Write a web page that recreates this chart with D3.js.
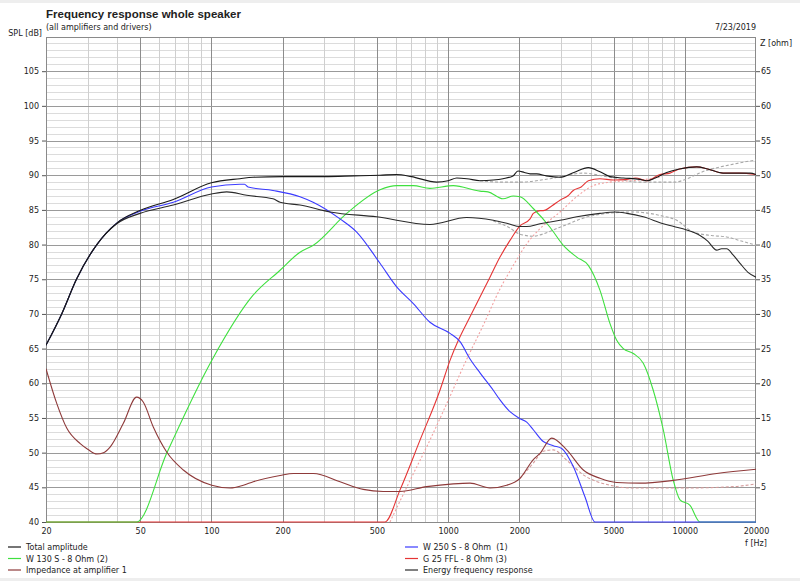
<!DOCTYPE html>
<html><head><meta charset="utf-8">
<script src="https://cdn.jsdelivr.net/npm/d3@7/dist/d3.min.js"></script>
<style>
html,body{margin:0;padding:0;background:#fff;}
svg{display:block;}
text{font-family:"DejaVu Sans",Verdana,sans-serif;fill:#222;}
</style></head><body>
<svg id="chart" width="800" height="581"></svg>
<script>
// ---------- data (frequency Hz, value) ----------
const freqTicks = [20,50,100,200,500,1000,2000,5000,10000,20000];
const splTicks = [40,45,50,55,60,65,70,75,80,85,90,95,100,105];
const zTicks = [5,10,15,20,25,30,35,40,45,50,55,60,65];

// SPL [dB]
const totalAmplitude = [[20,65.5],[23.3,70],[26.9,75],[32.8,80],[39.8,83.1],[49.9,84.9],[69,86.5],[100,88.9],[132,89.5],[150,89.7],[200,89.8],[300,89.8],[400,89.9],[515,90.0],[606,90.1],[700,89.8],[895,89.0],[1000,89.2],[1088,89.6],[1200,89.5],[1364,89.2],[1550,89.3],[1706,89.5],[1880,89.9],[1974,90.6],[2100,90.4],[2220,90.2],[2368,90.2],[2600,89.9],[2971,89.7],[3400,90.4],[3913,91.1],[4384,90.5],[4832,89.8],[5500,89.6],[6469,89.4],[6904,89.2],[7500,89.6],[8389,90.4],[9500,90.9],[11234,91.2],[12500,90.9],[14510,90.3],[17000,90.3],[18880,90.3],[20000,90.1]];
const energyResponse = [[20,65.5],[23.3,70],[26.9,75],[32.8,80],[39.8,83.0],[49.9,84.5],[69,85.7],[100,87.3],[116,87.6],[141,87.1],[182,86.6],[195,86.1],[236.7,85.7],[317,84.7],[499,84.0],[838,82.9],[1199,83.9],[1552,83.5],[1800,83.0],[2013,82.6],[2149,82.6],[2446,83.0],[2971,83.5],[3500,84.0],[4384,84.5],[5072,84.7],[5700,84.5],[6680,84.0],[8115,83.0],[9000,82.6],[10190,82.1],[11600,81.3],[12500,80.5],[13650,79.2],[14300,79.4],[15040,79.4],[16000,78.5],[17120,77.3],[18500,76.0],[20000,75.3]];
const woofer250 = [[20,65.5],[23.3,70],[26.9,75],[32.8,80],[39.8,83.1],[49.9,84.8],[69,86.1],[100,88.3],[132,88.7],[138,88.7],[142.8,88.3],[182,87.8],[236.7,86.9],[269,86.1],[349.5,83.7],[411,81.8],[515.6,77.3],[606.5,73.9],[713,71.5],[838,68.8],[1019,67.2],[1123,66.0],[1238,63.5],[1364,61.5],[1552,59.0],[1657,57.6],[1826,55.9],[2013,54.9],[2149,54.4],[2291,53.3],[2525,51.6],[2783,51.0],[3021,50.6],[3381,48.0],[3790,43.6],[4176,40],[20000,40]];
const mid130 = [[20,40],[48.3,40],[64.7,49.9],[100.3,63.3],[150,72.7],[195,76.3],[236.7,78.9],[269.5,79.9],[373,84.5],[515.6,87.9],[606.5,88.5],[713,88.5],[838,88.1],[1052,88.5],[1364,87.7],[1475,87.6],[1706,86.6],[1886,87.0],[2013,86.9],[2291,85.2],[2696,82.5],[3068,79.9],[3495,78.2],[3913,77.0],[4384,73.4],[4832,68.6],[5157,66.2],[5499,65.0],[6062,64.3],[6680,62.9],[7360,59.0],[8115,53.3],[8943,46.0],[9547,43.2],[10524,42.4],[11600,40],[20000,40]];
const tweeter25 = [[20,40],[541,40],[626,44.6],[761,51.8],[924,59.0],[1019,63.3],[1105,66.2],[1238,69.6],[1503,75.3],[1657,78.2],[1826,80.6],[2013,82.7],[2220,83.7],[2291,84.5],[2446,84.9],[2525,84.9],[2750,85.6],[2971,86.4],[3200,87.0],[3381,87.8],[3650,88.3],[3913,89.2],[4384,89.5],[5000,89.3],[5683,89.4],[6200,89.6],[6904,89.2],[7857,90.1],[8661,90.3],[9500,90.9],[11234,91.2],[12500,90.9],[14510,90.3],[17000,90.3],[20000,90.1]];
const tweeterDotted = [[568,40],[700,46.4],[838,51.8],[1000,57.5],[1200,63.5],[1400,68.2],[1657,73.6],[1886,77.0],[2149,80.1],[2446,82.3],[2971,84.7],[3495,86.9],[4107,88.5],[4832,89.0],[6469,89.3],[7500,89.6],[8000,89.8]];
const upperDotted = [[1364,89.2],[1657,89.0],[2013,89.0],[2696,89.5],[3727,90.3],[4832,89.7],[6469,89.0],[8943,89.0],[12380,90.7],[16040,91.6],[20000,92.2]];
const lowerDotted = [[1552,83.4],[1800,82.5],[2013,81.5],[2300,81.2],[2446,81.4],[2971,82.5],[4107,84.2],[6062,84.7],[7857,84.2],[9244,83.5],[10867,81.8],[13000,81.3],[15040,81.1],[17000,80.6],[20000,79.9]];

// Impedance [ohm]
const impedance = [[20,22.1],[22.2,17.1],[24.5,13.5],[27.9,11.3],[30,10.5],[32.8,9.8],[35,10.0],[37.3,10.8],[42.4,14.2],[48.3,18.0],[51.5,17.3],[56.8,13.7],[64.7,10.1],[76.1,7.5],[100.3,5.3],[120,4.9],[136.4,5.3],[150.2,5.8],[195,6.7],[222,7.0],[270,7.0],[349.5,5.8],[438,4.7],[532,4.4],[626,4.4],[812,5.1],[1052,5.5],[1238,5.6],[1503,4.9],[1769,5.3],[2013,6.3],[2291,9.0],[2446,9.9],[2741,12.1],[3171,10.4],[3727,7.5],[4384,6.3],[5157,5.7],[6469,5.6],[8943,6.0],[13650,7.0],[20000,7.6]];
const impedanceDotted = [[2013,6.3],[2291,8.5],[2525,10.2],[2783,10.4],[3171,8.9],[3727,6.8],[4832,5.3],[6062,4.9],[9858,4.9],[16040,5.1],[20000,5.5]];

// ---------- layout ----------
const svg = d3.select("#chart");
const L = 46, R = 756, T = 36.5, B = 522;
const x = d3.scaleLog().domain([20,20000]).range([L,R]);
const y = d3.scaleLinear().domain([40,110]).range([B,T]);
const yz = d3.scaleLinear().domain([0,70]).range([B,T]);

svg.append("rect").attr("x",0).attr("y",0).attr("width",800).attr("height",3).attr("fill","#eeeeee");
svg.append("rect").attr("x",0).attr("y",578).attr("width",800).attr("height",3).attr("fill","#eeeeee");

// grid
const g = svg.append("g").attr("shape-rendering","crispEdges");
const minorDb = d3.range(41,110);
g.selectAll(".hmin").data(minorDb.filter(d=>d%5!==0)).join("line")
  .attr("x1",L).attr("x2",R).attr("y1",d=>Math.round(y(d))+0.5).attr("y2",d=>Math.round(y(d))+0.5)
  .attr("stroke","#dcdcdc");
const vfreqs = [];
for (let dec=10; dec<=10000; dec*=10) for (let m=1; m<=9; m++){ const f=m*dec; if(f>20 && f<20000) vfreqs.push(f); }
g.selectAll(".vmin").data(vfreqs).join("line")
  .attr("x1",d=>Math.round(x(d))+0.5).attr("x2",d=>Math.round(x(d))+0.5).attr("y1",T).attr("y2",B)
  .attr("stroke",d=>freqTicks.includes(d)?"#8c8c8c":"#cfcfcf");
g.selectAll(".hmaj").data(d3.range(45,110,5)).join("line")
  .attr("x1",L).attr("x2",R).attr("y1",d=>Math.round(y(d))+0.5).attr("y2",d=>Math.round(y(d))+0.5)
  .attr("stroke","#9a9a9a");
g.append("rect").attr("x",L+0.5).attr("y",Math.round(T)+0.5).attr("width",R-L-1).attr("height",B-Math.round(T))
  .attr("fill","none").attr("stroke","#8a8a8a");

// axes
const axL = svg.append("g").attr("transform",`translate(${L},0)`)
  .call(d3.axisLeft(y).tickValues(splTicks).tickSize(4).tickPadding(3).tickFormat(d3.format("d")));
const axR = svg.append("g").attr("transform",`translate(${R},0)`)
  .call(d3.axisRight(yz).tickValues(zTicks).tickSize(4).tickPadding(1).tickFormat(d3.format("d")));
const axB = svg.append("g").attr("transform",`translate(0,${B})`)
  .call(d3.axisBottom(x).tickValues(freqTicks).tickSize(0).tickPadding(6).tickFormat(d3.format("d")));
[axL,axR,axB].forEach(a=>{
  a.select(".domain").remove();
  a.selectAll("line").attr("stroke","#555");
  a.selectAll("text").attr("font-size","8px").attr("fill","#222");
});

// titles & labels
svg.append("text").attr("x",L).attr("y",18).attr("font-size","11.5px").attr("font-weight","bold")
  .style("font-family","'Liberation Sans', Arial, sans-serif").text("Frequency response whole speaker");
svg.append("text").attr("x",L).attr("y",30).attr("font-size","8px").text("(all amplifiers and drivers)");
svg.append("text").attr("x",R).attr("y",30).attr("font-size","8px").attr("text-anchor","end").text("7/23/2019");
svg.append("text").attr("x",42).attr("y",36).attr("font-size","8px").attr("text-anchor","end").text("SPL [dB]");
svg.append("text").attr("x",760).attr("y",46).attr("font-size","8px").text("Z [ohm]");
svg.append("text").attr("x",R).attr("y",546).attr("font-size","8px").attr("text-anchor","middle").text("f [Hz]");

// curves
svg.append("clipPath").attr("id","clip").append("rect").attr("x",L).attr("y",T).attr("width",R-L).attr("height",B-T+1.5);
const plot = svg.append("g").attr("clip-path","url(#clip)");
const lineDb = d3.line().x(d=>x(d[0])).y(d=>Math.min(y(d[1]),B)).curve(d3.curveMonotoneX);
const lineZ = d3.line().x(d=>x(d[0])).y(d=>yz(d[1])).curve(d3.curveMonotoneX);

const series = [
  {data:tweeterDotted, gen:lineDb, color:"#f2a0a0", dash:"2,2"},
  {data:upperDotted, gen:lineDb, color:"#a8a8a8", dash:"3,2"},
  {data:lowerDotted, gen:lineDb, color:"#a8a8a8", dash:"3,2"},
  {data:impedanceDotted, gen:lineZ, color:"#d49a9a", dash:"3,2"},
  {data:tweeter25, gen:lineDb, color:"#e53535"},
  {data:mid130, gen:lineDb, color:"#3fe03f"},
  {data:woofer250, gen:lineDb, color:"#3a3aff"},
  {data:impedance, gen:lineZ, color:"#8e3a3a"},
  {data:energyResponse, gen:lineDb, color:"#2a2a2a"},
  {data:totalAmplitude, gen:lineDb, color:"#1a1a1a"},
];
series.forEach(s=>{
  plot.append("path").attr("d",s.gen(s.data)).attr("fill","none").attr("stroke",s.color)
    .attr("stroke-width",1.1).attr("stroke-dasharray",s.dash||null);
});

// legend
const legend = [
  {label:"Total amplitude", color:"#1a1a1a", x:8, y:547},
  {label:"W 130 S - 8 Ohm (2)", color:"#3fe03f", x:8, y:558.5},
  {label:"Impedance at amplifier 1", color:"#8e3a3a", x:8, y:570},
  {label:"W 250 S - 8 Ohm  (1)", color:"#3a3aff", x:405, y:547},
  {label:"G 25 FFL - 8 Ohm (3)", color:"#e53535", x:405, y:558.5},
  {label:"Energy frequency response", color:"#2a2a2a", x:405, y:570},
];
const lg = svg.append("g");
legend.forEach(d=>{
  lg.append("line").attr("x1",d.x).attr("x2",d.x+13).attr("y1",d.y).attr("y2",d.y).attr("stroke",d.color).attr("stroke-width",1.2);
  lg.append("text").attr("x",d.x+18).attr("y",d.y+3).attr("font-size","8px").attr("xml:space","preserve").style("white-space","pre").text(d.label);
});
</script>
</body></html>
